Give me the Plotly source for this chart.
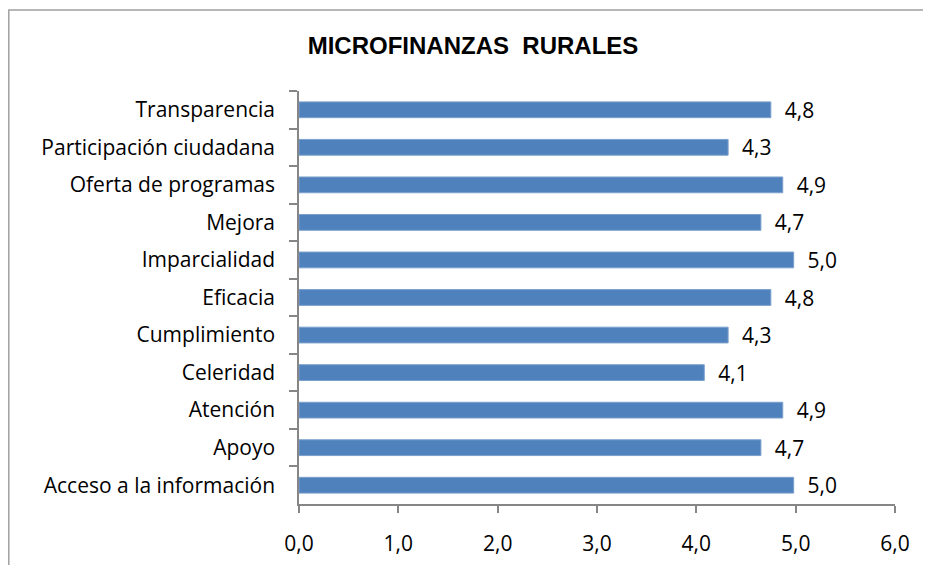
import plotly.graph_objects as go

categories = ["Transparencia", "Participación ciudadana", "Oferta de programas", "Mejora",
              "Imparcialidad", "Eficacia", "Cumplimiento", "Celeridad", "Atención",
              "Apoyo", "Acceso a la información"]
values = [4.75, 4.32, 4.87, 4.65, 4.98, 4.75, 4.32, 4.08, 4.87, 4.65, 4.98]
x_ticks = [0, 1, 2, 3, 4, 5, 6]
title_text = "MICROFINANZAS  RURALES"

# page body has an 8px margin; the figure is sized to fit inside the window
W, H = 923, 557
L, R, T, B = 291, 36, 83, 61
pw, ph = W - L - R, H - T - B
FONT = "Open Sans"
FS = 21

fig = go.Figure(go.Bar(
    y=categories, x=values, orientation="h",
    marker=dict(color="#4F81BD", line=dict(color="#7BA0CD", width=1)),
    texttemplate="  %{x:.1f}", textposition="outside", cliponaxis=False,
    constraintext="none",
    textfont=dict(family=FONT, size=FS, color="#000000"),
    width=0.42,
))

fig.update_layout(
    width=W, height=H, separators=",.",
    margin=dict(l=L, r=R, t=T, b=B, autoexpand=False),
    paper_bgcolor="white", plot_bgcolor="white",
    showlegend=False,
    title=dict(text="<b>" + title_text + "</b>", x=465 / W, xanchor="center",
               y=1 - 38 / H, yanchor="middle",
               font=dict(family="Liberation Sans", size=24, color="#000000")),
    font=dict(family=FONT, size=FS, color="#000000"),
    shapes=[dict(type="rect", xref="paper", yref="paper",
                 x0=(0.8 - L) / pw, x1=(W + 10 - L) / pw,
                 y0=-(B + 10) / ph, y1=((H - B) - 2) / ph,
                 line=dict(color="#A0A0A0", width=1.5), layer="below")],
)

fig.update_xaxes(range=[0, 6], tickvals=x_ticks, tickformat=".1f",
                 showgrid=False, zeroline=False, automargin=False,
                 showline=True, linecolor="#868686", linewidth=1.5,
                 ticks="outside", ticklen=7, tickcolor="#868686", tickwidth=1.5,
                 ticklabelstandoff=13,
                 tickfont=dict(family=FONT, size=FS, color="#000000"))
fig.update_yaxes(autorange="reversed", showgrid=False, zeroline=False, automargin=False,
                 showline=True, linecolor="#868686", linewidth=1.5,
                 ticks="outside", ticklen=8, tickcolor="#868686", tickwidth=1.5,
                 tickson="boundaries", ticklabelstandoff=18,
                 tickfont=dict(family=FONT, size=FS, color="#000000"))

fig.write_html("out.html")
